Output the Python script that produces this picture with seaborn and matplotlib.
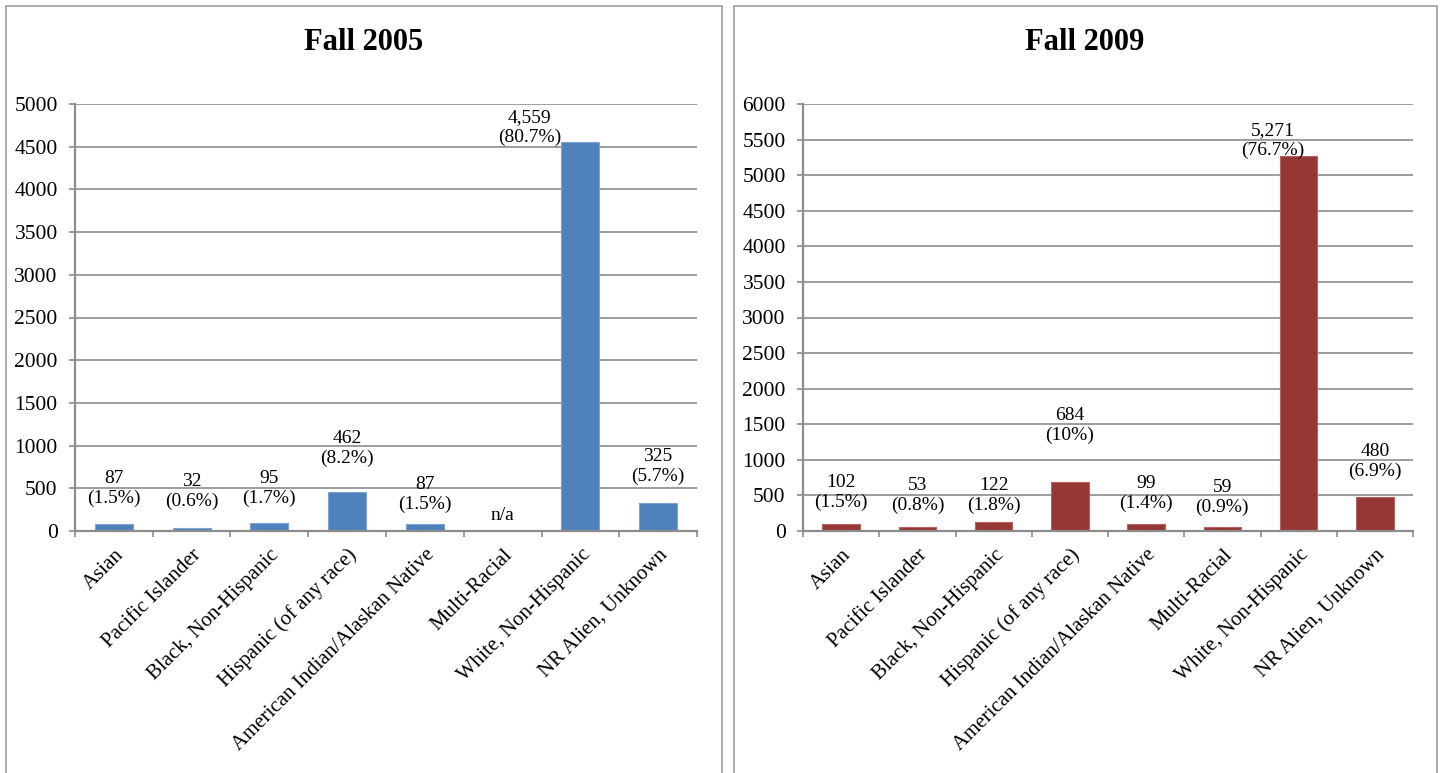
import numpy as np
import pandas as pd
import matplotlib
matplotlib.use("Agg")
import matplotlib.pyplot as plt
from matplotlib.lines import Line2D
from matplotlib.transforms import ScaledTranslation
import seaborn as sns

# Enrollment by race/ethnicity
categories = [
    "Asian",
    "Pacific Islander",
    "Black, Non-Hispanic",
    "Hispanic (of any race)",
    "American Indian/Alaskan Native",
    "Multi-Racial",
    "White, Non-Hispanic",
    "NR Alien, Unknown",
]
counts_2005 = [87, 32, 95, 462, 87, np.nan, 4559, 325]
pct_2005 = ["1.5%", "0.6%", "1.7%", "8.2%", "1.5%", None, "80.7%", "5.7%"]
counts_2009 = [102, 53, 122, 684, 99, 59, 5271, 480]
pct_2009 = ["1.5%", "0.8%", "1.8%", "10%", "1.4%", "0.9%", "76.7%", "6.9%"]
yticks_2005 = list(range(0, 5001, 500))
yticks_2009 = list(range(0, 6001, 500))

# Label placement (pixels above the bar top / sideways shift)
lift_2005 = [35, 37, 34, 43, 29, 15, 14, 37]
shift_2005 = [0, 0, 0, 0, 0, 0, -51, 0]
lift_2009 = [31, 32, 27, 57, 30, 29, 15, 35]
shift_2009 = [0, 0, 0, 0, 0, 0, -26, 0]

sns.set_theme(style="white")
plt.rcParams["font.family"] = ["Liberation Serif", "DejaVu Serif"]
plt.rcParams["text.color"] = "black"

W, H = 1442, 773
fig = plt.figure(figsize=(W / 100, H / 100), dpi=100)
fig.patch.set_facecolor("white")

GRID = "#8c8c8c"
FRAME = "#a6a6a6"


def fx(px):
    return px / W


def fy(py):
    return 1 - py / H


def draw_panel(ax, counts, pcts, color, edge, yticks, lifts, shifts):
    df = pd.DataFrame({"category": categories, "count": counts})
    sns.barplot(data=df, x="category", y="count", order=categories, ax=ax,
                color=color, saturation=1, width=0.49,
                edgecolor=edge, linewidth=0.8, errorbar=None)
    ax.set_xlim(-0.5, len(categories) - 0.5)
    ax.set_ylim(0, yticks[-1])
    ax.set_yticks(yticks)
    ax.set_xlabel("")
    ax.set_ylabel("")
    ax.yaxis.grid(True, color=GRID, linewidth=1.2)
    ax.xaxis.grid(False)
    ax.set_axisbelow(True)
    for side in ("top", "right"):
        ax.spines[side].set_visible(False)
    for side in ("left", "bottom"):
        ax.spines[side].set_color(GRID)
        ax.spines[side].set_linewidth(1.6)

    ax.tick_params(axis="y", which="major", left=True, length=4.5, width=1.2,
                   color=GRID, labelsize=15.5, pad=8, labelcolor="black")
    ax.set_xticks(np.arange(-0.5, len(categories), 1.0), minor=True)
    ax.tick_params(axis="x", which="minor", bottom=True, length=4.5, width=1.2,
                   color=GRID, direction="out")
    ax.tick_params(axis="x", which="major", length=0, pad=13, labelsize=15,
                   labelcolor="black")
    ax.set_xticks(range(len(categories)))
    labels = ax.set_xticklabels(categories, rotation=45, ha="right",
                                va="center", rotation_mode="anchor")
    nudge = ScaledTranslation(7 / 100, -3 / 100, fig.dpi_scale_trans)
    for lbl in labels:
        lbl.set_transform(lbl.get_transform() + nudge)

    for i, (v, p) in enumerate(zip(counts, pcts)):
        if v is None or (isinstance(v, float) and np.isnan(v)):
            txt, base = "n/a", 0
        else:
            txt, base = f"{v:,.0f}\n({p})", v
        ax.annotate(txt, xy=(i, base), xytext=(shifts[i], lifts[i]),
                    textcoords="offset pixels", ha="center", va="center",
                    fontsize=14, linespacing=1.2, color="black")


ax1 = fig.add_axes([fx(75), fy(531), fx(697 - 75), (531 - 104) / H])
ax2 = fig.add_axes([fx(803), fy(531), fx(1413 - 803), (531 - 104) / H])

draw_panel(ax1, counts_2005, pct_2005, "#4f81bd", "#7fa3d0",
           yticks_2005, lift_2005, shift_2005)
draw_panel(ax2, counts_2009, pct_2009, "#953735", "#b36462",
           yticks_2009, lift_2009, shift_2009)

fig.text(fx(364), fy(42), "Fall 2005", ha="center", va="center",
         fontsize=22, fontweight="bold")
fig.text(fx(1085), fy(42), "Fall 2009", ha="center", va="center",
         fontsize=22, fontweight="bold")

# Panel frames (open at the bottom)
for x0, x1 in ((6, 722), (734, 1437)):
    for xs, ys in (([x0, x0], [0, 6]), ([x1, x1], [0, 6]), ([x0, x1], [6, 6])):
        ys_f = [fy(H + 5) if y == 0 else fy(y) for y in ys]
        fig.add_artist(Line2D([fx(x) for x in xs], ys_f,
                              transform=fig.transFigure, color=FRAME,
                              linewidth=1.3))

fig.savefig("out.png", dpi=100)
